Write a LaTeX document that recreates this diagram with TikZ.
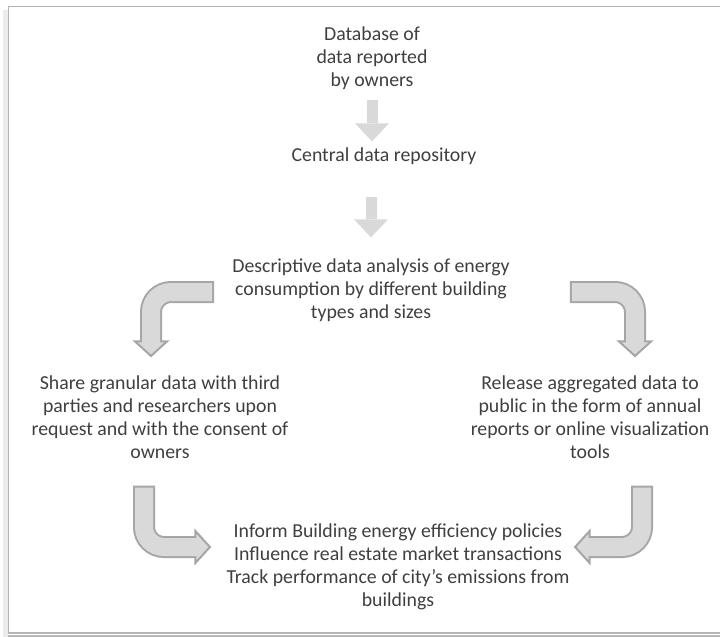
\documentclass[tikz,border=0pt]{standalone}
\usepackage{fontspec}
\setmainfont{Carlito}
\usetikzlibrary{arrows.meta,positioning}
\definecolor{txtc}{HTML}{3F3F3F}
\definecolor{arrfill}{HTML}{D9D9D9}
\definecolor{arrline}{HTML}{A6A6A6}
\definecolor{framec}{HTML}{B4B4B4}
\newcommand{\bentar}[1]{\draw[barout]#1;\draw[barin]#1;}
\tikzset{
  txt/.style={align=center,text=txtc,inner sep=0pt,font=\fontsize{19.8}{23}\selectfont},
  downar/.style={draw=arrfill,line width=11pt,-{Triangle[width=34pt,length=18pt,line width=0pt]}},
  barout/.style={draw=arrline,line width=22pt,rounded corners=20pt,shorten <=-2pt,
    -{Triangle[width=37pt,length=17pt,line width=2pt,fill=arrfill]}},
  barin/.style={draw=arrfill,line width=18pt,rounded corners=20pt,shorten >=13pt},
}
\begin{document}
\begin{tikzpicture}[x=1pt,y=-1pt]
\useasboundingbox (0,0) rectangle (720,637);
% frame and its shadow
\fill[black!8] (3,10) rectangle (8,637);
\fill[black!28] (8,634.5) rectangle (720,637);
\draw[framec,line width=1.5pt] (720,6.5) -- (8.5,6.5) -- (8.5,633) -- (720,633);

\node[txt] (db) at (372,58) {Database of\\data reported\\by owners};
\node[txt] (central) at (384,156) {Central data repository};
\node[txt] (desc) at (371,290) {Descriptive data analysis of energy\\consumption by different building\\types and sizes};
\node[txt] (share) at (160,417) {Share granular data with third\\parties and researchers upon\\request and with the consent of\\owners};
\node[txt] (release) at (590,417) {Release aggregated data to\\public in the form of annual\\reports or online visualization\\tools};
\node[txt] (inform) at (398,567) {Inform Building energy efficiency policies\\Influence real estate market transactions\\Track performance of city’s emissions from\\buildings};

\draw[downar,shorten <=10pt,shorten >=6pt] (db.south) -- (db.south |- central.north);
\draw[downar,shorten <=32pt,shorten >=21pt] (central.south -| desc.north) -- (desc.north);

\bentar{([xshift=-20pt,yshift=-2pt]desc.west) -| ([xshift=-9pt,yshift=18pt]share.north)}
\bentar{([xshift=62pt,yshift=-2pt]desc.east) -| ([xshift=45pt,yshift=18pt]release.north)}
\bentar{([xshift=-16pt,yshift=-29pt]share.south) |- ([xshift=-15pt,yshift=20pt]inform.west)}
\bentar{([xshift=52pt,yshift=-29pt]release.south) |- ([xshift=4pt,yshift=20pt]inform.east)}
\end{tikzpicture}
\end{document}
